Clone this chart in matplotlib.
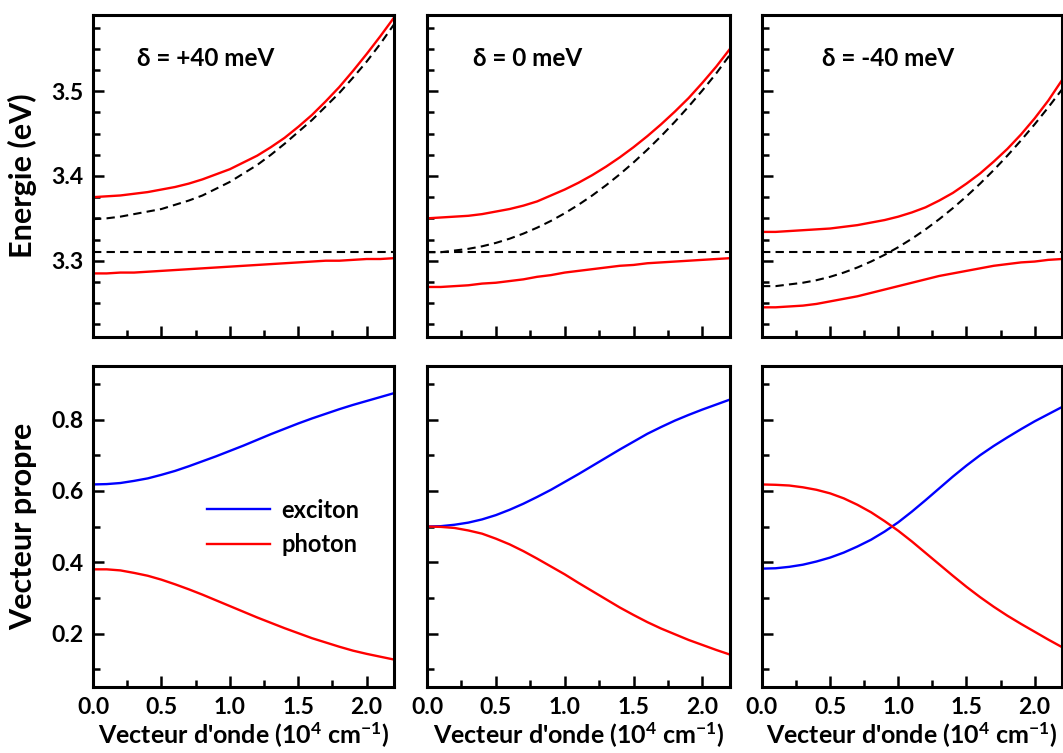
import matplotlib
matplotlib.use("Agg")
import matplotlib.pyplot as plt
from matplotlib.ticker import MultipleLocator, FormatStrFormatter

plt.rcParams['font.family'] = ['Lato', 'DejaVu Sans']
plt.rcParams['font.weight'] = 'bold'
plt.rcParams['mathtext.fontset'] = 'custom'
plt.rcParams['mathtext.rm'] = 'Lato:bold'
plt.rcParams['mathtext.default'] = 'rm'

# Vecteur d'onde (10^4 cm^-1)
k = [0.0, 0.1, 0.2, 0.3, 0.4, 0.5, 0.6, 0.7, 0.8, 0.9, 1.0, 1.1,
     1.2, 1.3, 1.4, 1.5, 1.6, 1.7, 1.8, 1.9, 2.0, 2.1, 2.2]

detunings = ["+40", "0", "-40"]
E_exciton = 3.31

# Energies (eV) : polariton haut, polariton bas, photon de cavite
up_p40 = [3.375, 3.376, 3.377, 3.379, 3.381, 3.384, 3.387, 3.391, 3.396, 3.402, 3.408, 3.416,
          3.424, 3.434, 3.445, 3.458, 3.472, 3.488, 3.505, 3.524, 3.544, 3.565, 3.587]
lp_p40 = [3.285, 3.285, 3.286, 3.286, 3.287, 3.288, 3.289, 3.290, 3.291, 3.292, 3.293, 3.294,
          3.295, 3.296, 3.297, 3.298, 3.299, 3.300, 3.300, 3.301, 3.302, 3.302, 3.303]
ph_p40 = [3.349, 3.350, 3.352, 3.355, 3.358, 3.361, 3.366, 3.371, 3.377, 3.385, 3.393, 3.403,
          3.413, 3.425, 3.438, 3.452, 3.466, 3.482, 3.498, 3.516, 3.535, 3.556, 3.579]

up_0 = [3.350, 3.351, 3.352, 3.353, 3.355, 3.358, 3.361, 3.365, 3.370, 3.377, 3.384, 3.392,
        3.401, 3.411, 3.422, 3.434, 3.447, 3.461, 3.476, 3.492, 3.510, 3.529, 3.550]
lp_0 = [3.269, 3.269, 3.270, 3.271, 3.273, 3.274, 3.276, 3.278, 3.281, 3.283, 3.286, 3.288,
        3.290, 3.292, 3.294, 3.295, 3.297, 3.298, 3.299, 3.300, 3.301, 3.302, 3.303]
ph_0 = [3.310, 3.310, 3.312, 3.314, 3.317, 3.321, 3.326, 3.332, 3.339, 3.347, 3.356, 3.366,
        3.377, 3.389, 3.402, 3.416, 3.431, 3.447, 3.464, 3.482, 3.501, 3.521, 3.543]

up_m40 = [3.334, 3.334, 3.335, 3.336, 3.337, 3.338, 3.340, 3.342, 3.345, 3.348, 3.352, 3.357,
          3.363, 3.371, 3.380, 3.391, 3.403, 3.417, 3.432, 3.449, 3.468, 3.489, 3.513]
lp_m40 = [3.245, 3.245, 3.246, 3.247, 3.249, 3.252, 3.255, 3.258, 3.262, 3.266, 3.270, 3.274,
          3.278, 3.282, 3.285, 3.288, 3.291, 3.294, 3.296, 3.298, 3.299, 3.301, 3.302]
ph_m40 = [3.270, 3.270, 3.272, 3.274, 3.277, 3.281, 3.286, 3.292, 3.299, 3.307, 3.316, 3.326,
          3.337, 3.349, 3.362, 3.376, 3.391, 3.407, 3.424, 3.442, 3.461, 3.481, 3.502]

# Coefficients de Hopfield (vecteur propre)
exc_p40 = [0.618, 0.619, 0.622, 0.628, 0.635, 0.645, 0.656, 0.669, 0.683, 0.697, 0.712, 0.727,
           0.743, 0.759, 0.774, 0.789, 0.803, 0.816, 0.829, 0.841, 0.852, 0.863, 0.874]
pho_p40 = [0.380, 0.380, 0.377, 0.370, 0.362, 0.351, 0.338, 0.324, 0.309, 0.293, 0.277, 0.261,
           0.245, 0.230, 0.215, 0.201, 0.187, 0.175, 0.163, 0.152, 0.143, 0.135, 0.127]

exc_0 = [0.500, 0.501, 0.505, 0.511, 0.520, 0.532, 0.547, 0.564, 0.583, 0.603, 0.625, 0.647,
         0.670, 0.693, 0.716, 0.738, 0.760, 0.779, 0.797, 0.813, 0.828, 0.842, 0.856]
pho_0 = [0.500, 0.499, 0.496, 0.489, 0.480, 0.466, 0.450, 0.431, 0.410, 0.388, 0.366, 0.342,
         0.319, 0.296, 0.273, 0.252, 0.232, 0.214, 0.198, 0.182, 0.168, 0.154, 0.141]

exc_m40 = [0.382, 0.383, 0.387, 0.393, 0.402, 0.413, 0.427, 0.444, 0.463, 0.486, 0.512, 0.542,
           0.574, 0.607, 0.640, 0.671, 0.700, 0.726, 0.750, 0.773, 0.795, 0.815, 0.835]
pho_m40 = [0.618, 0.617, 0.615, 0.610, 0.603, 0.593, 0.579, 0.561, 0.540, 0.515, 0.488, 0.458,
           0.426, 0.394, 0.362, 0.331, 0.302, 0.275, 0.250, 0.227, 0.205, 0.183, 0.162]

energies = [(up_p40, lp_p40, ph_p40), (up_0, lp_0, ph_0), (up_m40, lp_m40, ph_m40)]
vectors = [(exc_p40, pho_p40), (exc_0, pho_0), (exc_m40, pho_m40)]

fig = plt.figure(figsize=(10.63, 7.53), dpi=100)

lefts = [0.0875, 0.4017, 0.7168]
widths = [0.2832, 0.2850, 0.2822]
dash = (0, (4, 2.5))


def style_axes(ax):
    for s in ax.spines.values():
        s.set_linewidth(2.2)
    ax.tick_params(which='both', direction='in', top=False, right=False,
                   width=1.8, labelsize=16.5, pad=7)
    ax.tick_params(which='major', length=8)
    ax.tick_params(which='minor', length=5)
    ax.set_xlim(0, 2.2)
    ax.xaxis.set_major_locator(MultipleLocator(0.5))
    ax.xaxis.set_minor_locator(MultipleLocator(0.25))
    ax.xaxis.set_major_formatter(FormatStrFormatter('%.1f'))
    ax.yaxis.set_major_formatter(FormatStrFormatter('%.1f'))


for i in range(3):
    # rangee du haut : dispersion
    ax = fig.add_axes([lefts[i], 0.5525, widths[i], 0.4276])
    style_axes(ax)
    up, lp, ph = energies[i]
    ax.axhline(E_exciton, color='black', lw=1.5, ls=dash)
    ax.plot(k, ph, color='black', lw=1.5, ls=dash)
    ax.plot(k, up, color='red', lw=1.7)
    ax.plot(k, lp, color='red', lw=1.7)
    ax.set_ylim(3.21, 3.59)
    ax.yaxis.set_major_locator(MultipleLocator(0.1))
    ax.yaxis.set_minor_locator(MultipleLocator(0.025))
    ax.tick_params(labelbottom=False)
    xt = [0.146, 0.152, 0.2][i]
    ax.text(xt, 0.866, "δ = " + detunings[i] + " meV", transform=ax.transAxes,
            fontsize=17.5, fontweight='bold', va='center', ha='left')
    if i == 0:
        ax.set_ylabel("Energie (eV)", fontsize=22, fontweight='bold', labelpad=10)
    else:
        ax.tick_params(labelleft=False)

    # rangee du bas : vecteur propre
    ax = fig.add_axes([lefts[i], 0.0876, widths[i], 0.4263])
    style_axes(ax)
    exc, pho = vectors[i]
    ax.plot(k, exc, color='blue', lw=1.7, label='exciton')
    ax.plot(k, pho, color='red', lw=1.7, label='photon')
    ax.set_ylim(0.05, 0.95)
    ax.yaxis.set_major_locator(MultipleLocator(0.2))
    ax.yaxis.set_minor_locator(MultipleLocator(0.1))
    ax.set_xlabel("Vecteur d'onde (10$^4$ cm$^{-1}$)", fontsize=18,
                  fontweight='bold', labelpad=2)
    if i == 0:
        ax.set_ylabel("Vecteur propre", fontsize=22, fontweight='bold', labelpad=10)
        ax.legend(loc='upper left', bbox_to_anchor=(0.379, 0.587), frameon=False,
                  fontsize=17, handlelength=2.67, handletextpad=0.47,
                  labelspacing=0.5, borderpad=0, borderaxespad=0)
    else:
        ax.tick_params(labelleft=False)

fig.savefig("out.png", dpi=100)
